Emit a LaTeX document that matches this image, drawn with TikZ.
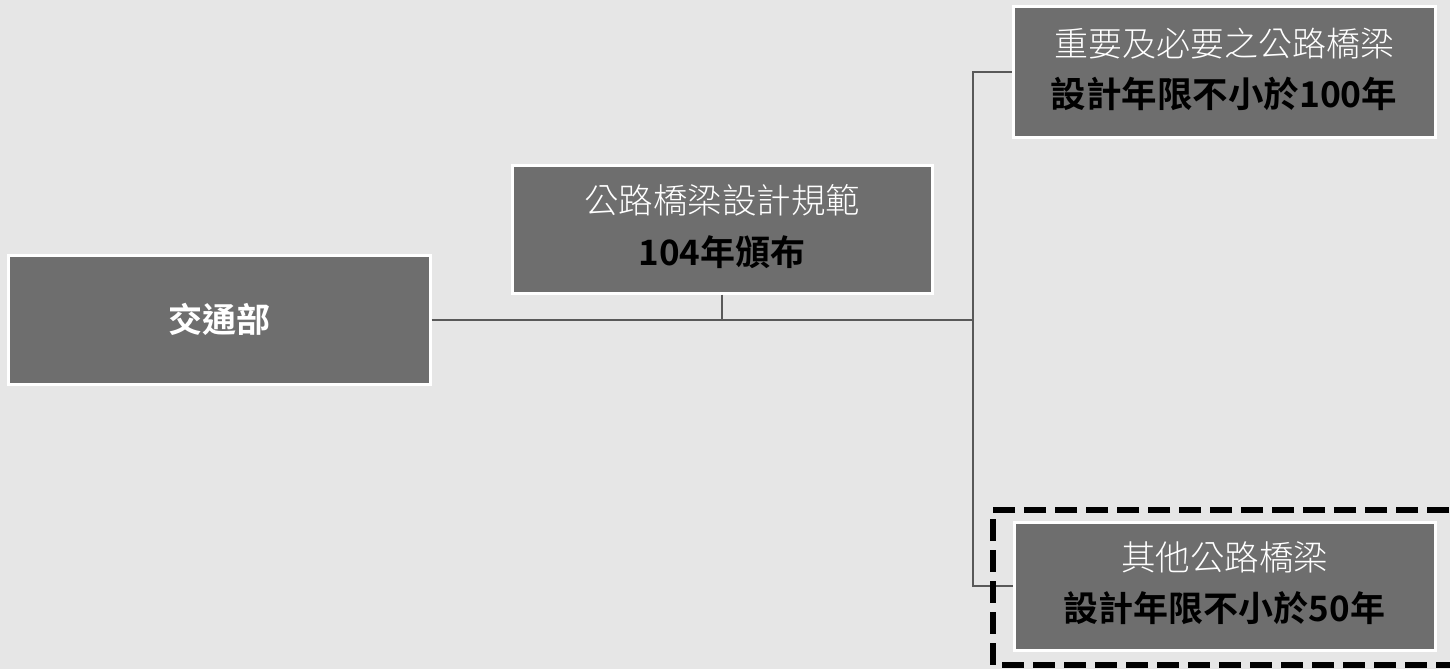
\documentclass[tikz,border=0pt]{standalone}
\usepackage{fontspec}
\newfontfamily\cjk{Noto Sans CJK TC}[UprightFont={* Light}, BoldFont={* Bold}]
\definecolor{bg}{HTML}{E6E6E6}
\definecolor{boxfill}{HTML}{6E6E6E}
\definecolor{conn}{HTML}{595959}
\tikzset{
  orgbox/.style={rectangle, fill=boxfill, draw=white, line width=3pt, inner sep=0pt, align=center, text depth=8pt},
  link/.style={draw=conn, line width=2pt},
  hilite/.style={draw=black, line width=6pt, dash pattern=on 22pt off 9pt}
}
\begin{document}
\begin{tikzpicture}[x=1pt,y=-1pt]
\fill[bg] (0,0) rectangle (1450,669);
\useasboundingbox (0,0) rectangle (1450,669);
\node[orgbox, minimum width=422pt, minimum height=129pt, text=white, text depth=4pt, font=\cjk\fontsize{34}{53}\selectfont] (b1) at (219,319.5)
  {\bfseries 交通部};
\node[orgbox, minimum width=420pt, minimum height=128pt, font=\cjk\fontsize{34.5}{52}\selectfont] (b2) at (722,229)
  {\color{white}公路橋梁設計規範\\ \fontsize{35}{52}\selectfont\bfseries\color{black}104年頒布};
\node[orgbox, minimum width=422pt, minimum height=130pt, font=\cjk\fontsize{34}{50.5}\selectfont] (b3) at (1224,72)
  {\color{white}重要及必要之公路橋梁\\ \fontsize{35.5}{50.5}\selectfont\bfseries\color{black}設計年限不小於100年};
\node[orgbox, minimum width=421pt, minimum height=128pt, font=\cjk\fontsize{34.5}{51}\selectfont] (b4) at (1224.5,586)
  {\color{white}其他公路橋梁\\ \fontsize{35}{51}\selectfont\bfseries\color{black}設計年限不小於50年};
\coordinate (j) at (973,319.5);
\draw[link] (b1.east) -- (j);
\draw[link] (b2.south) -- (b2.south |- j);
\draw[link] (b3.west) -| (j);
\draw[link] (b4.west) -| (j);
\draw[hilite] (1480,510) -- (993,510) -- (993,665) -- (1480,665);
\end{tikzpicture}
\end{document}
